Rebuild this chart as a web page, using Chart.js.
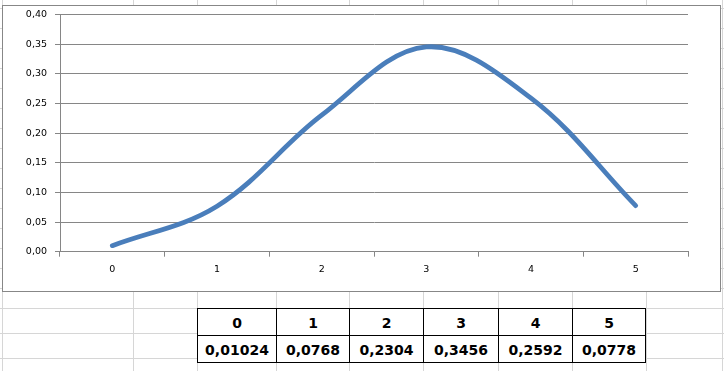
<!DOCTYPE html>
<html>
<head>
<meta charset="utf-8">
<script src="https://cdn.jsdelivr.net/npm/chart.js@4"></script>
<style>
  html, body { margin:0; padding:0; background:#fff; }
  body { width:724px; height:371px; position:relative; overflow:hidden; }
  .gl { position:absolute; background:#d6d6d6; }
  #chartBox { position:absolute; left:2px; top:5px; width:719px; height:287px; box-sizing:border-box;
              border:1px solid #878787; background:#fff; overflow:hidden; }
  #chartBox canvas { position:absolute; left:0; top:-5px; }
  #tbl { position:absolute; left:197px; top:308px; border-collapse:collapse; background:#fff;
         font-family:"DejaVu Sans", sans-serif; font-weight:bold; font-size:14px; color:#000; }
  #tbl td { border:1px solid #000; height:24px; padding:0; text-align:center; vertical-align:middle;
            line-height:24px; padding-top:2px; box-sizing:border-box; }
</style>
</head>
<body>
<div id="chartBox"><canvas id="c" width="717" height="290"></canvas></div>
<table id="tbl"><tr id="r1"></tr><tr id="r2"></tr></table>
<script>
// ---- data ----
const categories = ['0', '1', '2', '3', '4', '5'];
const probabilities = [0.01024, 0.0768, 0.2304, 0.3456, 0.2592, 0.0778];
const yTickValues = [0, 0.05, 0.10, 0.15, 0.20, 0.25, 0.30, 0.35, 0.40];

// ---- spreadsheet background grid (layout only) ----
const colLines = [2, 133, 197, 276, 349, 423, 498, 572, 646, 722];
const rowLines = [8, 28, 48, 68, 88, 108, 128, 148, 168, 188, 208, 228, 248, 268, 288, 308, 333, 358];
colLines.forEach(x => { const d = document.createElement('div'); d.className = 'gl';
  d.style.left = x + 'px'; d.style.top = '0px'; d.style.width = '1px'; d.style.height = '371px';
  document.body.insertBefore(d, document.body.firstChild); });
rowLines.forEach(y => { const d = document.createElement('div'); d.className = 'gl';
  d.style.left = '0px'; d.style.top = y + 'px'; d.style.width = '724px'; d.style.height = '1px';
  document.body.insertBefore(d, document.body.firstChild); });

// ---- table ----
const colWidths = [79, 73, 74, 75, 74, 73];
const fmt = v => String(v).replace('.', ',');
const r1 = document.getElementById('r1'), r2 = document.getElementById('r2');
categories.forEach((c, i) => {
  const a = document.createElement('td'); a.textContent = c; a.style.width = colWidths[i] + 'px'; r1.appendChild(a);
  const b = document.createElement('td'); b.textContent = fmt(probabilities[i]); b.style.width = colWidths[i] + 'px'; r2.appendChild(b);
});

// ---- chart ----
const tickFont = { family: 'DejaVu Sans', size: 9.5 };
new Chart(document.getElementById('c'), {
  type: 'line',
  data: {
    labels: categories,
    datasets: [{
      data: probabilities,
      borderColor: '#4a7ebb',
      borderWidth: 4.8,
      borderCapStyle: 'round',
      borderJoinStyle: 'round',
      pointRadius: 0,
      tension: 0.36,
      fill: false
    }]
  },
  options: {
    responsive: false,
    devicePixelRatio: 1,
    animation: false,
    layout: { padding: { left: 0, right: 32, top: 1.4, bottom: 0 } },
    plugins: { legend: { display: false }, tooltip: { enabled: false } },
    scales: {
      x: {
        type: 'category',
        offset: true,
        grid: { offset: true, drawOnChartArea: false, color: '#868686', tickLength: 5, lineWidth: 1 },
        border: { color: '#868686', width: 1 },
        ticks: { font: tickFont, color: '#000', padding: 7, maxRotation: 0 },
        afterFit(s) { s.height = 39.3; }
      },
      y: {
        min: 0, max: 0.4,
        afterBuildTicks(s) { s.ticks = yTickValues.map(v => ({ value: v })); },
        ticks: { font: tickFont, color: '#000', padding: 8,
                 callback: v => v.toFixed(2).replace('.', ',') },
        grid: { color: '#868686', tickLength: 5, lineWidth: 1 },
        border: { color: '#868686', width: 1 },
        afterFit(s) { s.width = 57; }
      }
    }
  }
});
</script>
</body>
</html>
